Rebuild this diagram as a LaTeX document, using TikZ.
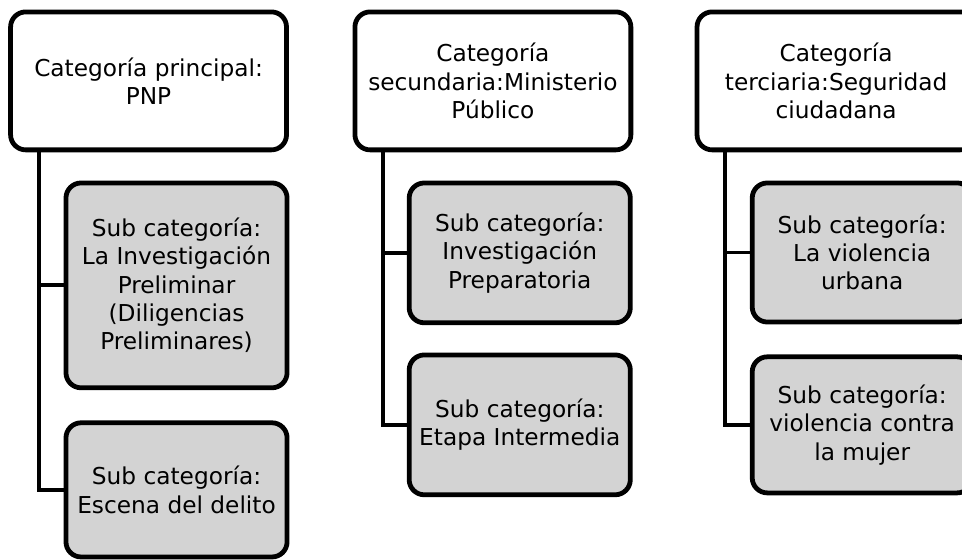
\documentclass[tikz,border=0pt]{standalone}
\usepackage{fontspec}
\setmainfont{DejaVu Sans}
\usepackage{xcolor}
\definecolor{subgray}{RGB}{211,211,211}
\tikzset{
 catbox/.style={draw, line width=3.6pt, rounded corners=.4cm, fill=white, align=center, inner sep=0pt, outer sep=0pt, minimum width=7.3cm, minimum height=3.65cm, font=\fontsize{17.5}{21.3}\selectfont},
 subbox/.style={catbox, fill=subgray, minimum width=5.85cm},
 link/.style={line width=3pt}
}

\begin{document}
\begin{tikzpicture}
 \useasboundingbox (0,0) rectangle (25.45,-14.79);
%
 \node[catbox] (catA) at (3.93,-2.14) {Categoría principal:\\PNP};
 \node[subbox, minimum height=5.42cm] (subA1) at (4.67,-7.55) {Sub categoría:\\La Investigación\\Preliminar\\(Diligencias\\Preliminares)};
 \node[subbox, minimum height=3.55cm] (subA2) at (4.67,-12.96) {Sub categoría:\\Escena del delito};
%
 \node[catbox] (catB) at (13.04,-2.14) {Categoría\\secundaria:Ministerio\\Público};
 \node[subbox, minimum height=3.7cm] (subB1) at (13.75,-6.69) {Sub categoría:\\Investigación\\Preparatoria};
 \node[subbox, minimum height=3.7cm] (subB2) at (13.75,-11.24) {Sub categoría:\\Etapa Intermedia};
%
 \node[catbox, minimum width=7.36cm] (catC) at (22.12,-2.14) {Categoría\\terciaria:Seguridad\\ciudadana};
 \node[subbox, minimum width=5.82cm, minimum height=3.68cm] (subC1) at (22.81,-6.68) {Sub categoría:\\La violencia\\urbana};
 \node[subbox, minimum width=5.82cm, minimum height=3.6cm] (subC2) at (22.81,-11.24) {Sub categoría:\\violencia contra\\la mujer};
%
 \draw[link] ([xshift=.75cm]catA.south west) |- (subA1.west);
 \draw[link] ([xshift=.75cm]catA.south west) |- (subA2.west);
 \draw[link] ([xshift=.75cm]catB.south west) |- (subB1.west);
 \draw[link] ([xshift=.75cm]catB.south west) |- (subB2.west);
 \draw[link] ([xshift=.75cm]catC.south west) |- (subC1.west);
 \draw[link] ([xshift=.75cm]catC.south west) |- (subC2.west);
\end{tikzpicture}
\end{document}
